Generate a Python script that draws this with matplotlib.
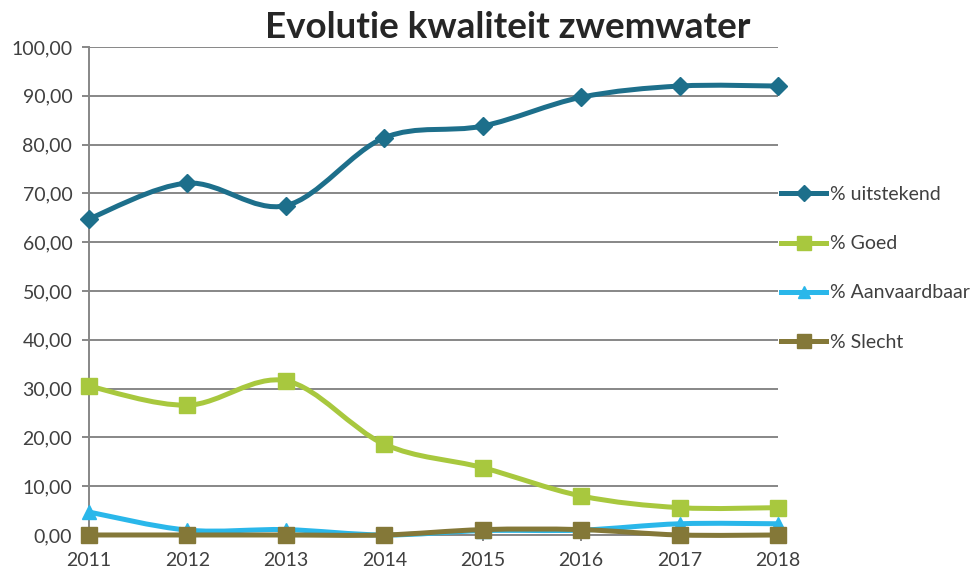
import matplotlib
matplotlib.use("Agg")
import matplotlib.pyplot as plt
from matplotlib.path import Path
from matplotlib.patches import PathPatch
from matplotlib.lines import Line2D
from matplotlib.ticker import FuncFormatter

jaren = [2011, 2012, 2013, 2014, 2015, 2016, 2017, 2018]
uitstekend = [64.8, 72.1, 67.5, 81.4, 83.8, 89.7, 92.0, 92.0]
goed = [30.5, 26.6, 31.6, 18.6, 13.8, 8.0, 5.6, 5.6]
aanvaardbaar = [4.7, 1.0, 1.1, 0.0, 0.9, 1.0, 2.3, 2.3]
slecht = [0.0, 0.0, 0.0, 0.0, 1.1, 1.1, 0.0, 0.0]

reeksen = ["% uitstekend", "% Goed", "% Aanvaardbaar", "% Slecht"]
kleuren = ["#1d6f8b", "#a8c83e", "#2ab7ea", "#847838"]
markers = ["D", "s", "^", "s"]
msizes = [9, 12, 10, 12]

plt.rcParams['font.family'] = ['Lato', 'DejaVu Sans']


def glad_pad(x, y):
    # bezier-curve door de punten, zoals de 'vloeiende lijn' in Excel
    pts = list(zip(x, y))
    verts = [pts[0]]
    codes = [Path.MOVETO]
    n = len(pts)
    for i in range(n - 1):
        p0 = pts[i - 1] if i > 0 else pts[i]
        p1 = pts[i]
        p2 = pts[i + 1]
        p3 = pts[i + 2] if i + 2 < n else pts[i + 1]
        c1 = (p1[0] + (p2[0] - p0[0]) / 6, p1[1] + (p2[1] - p0[1]) / 6)
        c2 = (p2[0] - (p3[0] - p1[0]) / 6, p2[1] - (p3[1] - p1[1]) / 6)
        verts += [c1, c2, p2]
        codes += [Path.CURVE4] * 3
    return Path(verts, codes)


fig = plt.figure(figsize=(9.79, 5.76), dpi=100)
ax = fig.add_axes([0.0909, 0.0712, 0.7038, 0.8472])

data = [uitstekend, goed, aanvaardbaar, slecht]
handles = []
for vals, naam, kl, mk, ms in zip(data, reeksen, kleuren, markers, msizes):
    ax.add_patch(PathPatch(glad_pad(jaren, vals), facecolor='none', edgecolor=kl,
                           lw=3.6, capstyle='round', joinstyle='round', clip_on=False, zorder=3))
    ax.plot(jaren, vals, linestyle='none', marker=mk, markersize=ms, color=kl,
            clip_on=False, zorder=4)
    handles.append(Line2D([0], [0], color=kl, lw=3.6, marker=mk, markersize=ms * 0.85))

ax.set_xlim(2011, 2018)
ax.set_ylim(0, 100)
ax.set_yticks(range(0, 101, 10))
ax.set_xticks(jaren)
ax.yaxis.set_major_formatter(FuncFormatter(lambda v, p: f"{v:.2f}".replace(".", ",")))
ax.grid(axis='y', color='#878787', lw=1.4)
ax.set_axisbelow(True)
for s in ['top', 'right']:
    ax.spines[s].set_visible(False)
for s in ['left', 'bottom']:
    ax.spines[s].set_color('#878787')
    ax.spines[s].set_linewidth(1.4)
ax.tick_params(axis='both', colors='#878787', labelcolor='#404040', labelsize=14, width=1.4)
ax.tick_params(axis='y', length=5, pad=7)
ax.tick_params(axis='x', length=4, pad=8)

fig.text(0.519, 0.953, "Evolutie kwaliteit zwemwater", ha='center', va='center',
         fontsize=26.5, fontweight='bold', color='#262626')

leg = fig.legend(handles, reeksen, loc='center left', bbox_to_anchor=(0.798, 0.534),
                 frameon=False, fontsize=14, handlelength=2.3, handletextpad=0.2,
                 labelspacing=1.65, borderpad=0, borderaxespad=0)
for t in leg.get_texts():
    t.set_color('#404040')

fig.savefig("out.png", dpi=100)
